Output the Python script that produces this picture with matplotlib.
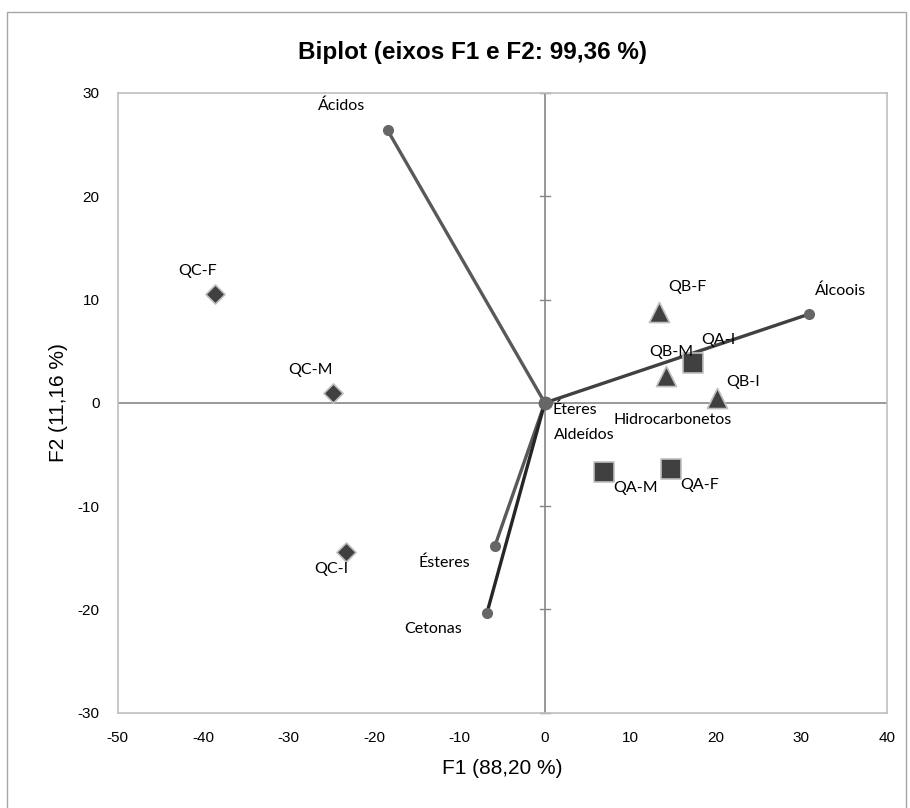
import matplotlib
matplotlib.use("Agg")
import matplotlib.pyplot as plt
from matplotlib.patches import Rectangle

plt.rcParams["axes.unicode_minus"] = False

# ---- data ----
obs_labels = ["QA-I", "QA-M", "QA-F", "QB-I", "QB-M", "QB-F", "QC-I", "QC-M", "QC-F"]
obs_f1 = [17.3, 6.9, 14.8, 20.2, 14.2, 13.4, -23.3, -24.8, -38.6]
obs_f2 = [3.9, -6.7, -6.4, 0.5, 2.6, 8.8, -14.4, 1.0, 10.5]
obs_group = ["A", "A", "A", "B", "B", "B", "C", "C", "C"]

var_labels = ["Ácidos", "Álcoois", "Ésteres", "Cetonas", "Éteres", "Aldeídos", "Hidrocarbonetos"]
var_f1 = [-18.4, 30.95, -5.86, -6.76, 0.1, 0.05, 0.2]
var_f2 = [26.4, 8.6, -13.9, -20.3, 0.05, -0.1, 0.02]

x_ticks = [-50, -40, -30, -20, -10, 0, 10, 20, 30, 40]
y_ticks = [-30, -20, -10, 0, 10, 20, 30]

title = "Biplot (eixos F1 e F2: 99,36 %)"
xlabel = "F1 (88,20 %)"
ylabel = "F2 (11,16 %)"

# ---- styles ----
W, H = 910, 808
fig = plt.figure(figsize=(W / 100, H / 100), dpi=100)
ax_l, ax_r, ax_t, ax_b = 117.5, 886.7, 93, 712.7
ax = fig.add_axes([ax_l / W, 1 - ax_b / H, (ax_r - ax_l) / W, (ax_b - ax_t) / H])

lab_font = "Lato"
marker_style = {"A": dict(marker="s", s=210), "B": dict(marker="^", s=210), "C": dict(marker="D", s=95)}

obs_offsets = {
    "QA-I": (26, 23), "QA-M": (32, -16), "QA-F": (28, -16),
    "QB-I": (26, 16), "QB-M": (5, 24), "QB-F": (28, 25),
    "QC-I": (-14, -17), "QC-M": (-22, 23), "QC-F": (-17, 23),
}
var_offsets = {
    "Ácidos": (-46, 24), "Álcoois": (31, 23), "Ésteres": (-50, -16), "Cetonas": (-54, -16),
    "Éteres": (29, -7), "Aldeídos": (39, -31), "Hidrocarbonetos": (126, -17),
}
var_colors = {"Ácidos": "#595959", "Álcoois": "#404040", "Ésteres": "#595959", "Cetonas": "#262626",
              "Éteres": "#595959", "Aldeídos": "#595959", "Hidrocarbonetos": "#595959"}

ax.set_xlim(-50, 40)
ax.set_ylim(-30, 30)

# center axes
ax.axvline(0, color="#868686", lw=1.2, zorder=1)
ax.axhline(0, color="#868686", lw=1.2, zorder=1)
for yt in y_ticks:
    if yt != 0:
        ax.plot([-0.6, 0.6], [yt, yt], color="#868686", lw=1.0, zorder=1, clip_on=False)

# vectors
for lab, x, y in zip(var_labels, var_f1, var_f2):
    c = var_colors[lab]
    ax.plot([0, x], [0, y], color=c, lw=2.4, zorder=3, solid_capstyle="round")
    ax.plot([x], [y], marker="o", ms=7, color="#666666", mec="#666666", zorder=4)
    dx, dy = var_offsets[lab]
    ax.annotate(lab, (x, y), xytext=(dx, dy), textcoords="offset pixels",
                ha="center", va="center", fontsize=11.5, family=lab_font, color="#000000", zorder=6)
ax.plot([0], [0], marker="o", ms=9, color="#666666", zorder=4)

# observations
for lab, x, y, g in zip(obs_labels, obs_f1, obs_f2, obs_group):
    st = marker_style[g]
    ax.scatter([x], [y], marker=st["marker"], s=st["s"], color="#404040",
               edgecolors="#BFBFBF", linewidths=1.2, zorder=5)
    dx, dy = obs_offsets[lab]
    ax.annotate(lab, (x, y), xytext=(dx, dy), textcoords="offset pixels",
                ha="center", va="center", fontsize=11.5, family=lab_font, color="#000000", zorder=6)

ax.set_xticks(x_ticks)
ax.set_yticks(y_ticks)
ax.tick_params(length=0, labelsize=11, pad=13)
for t in ax.get_xticklabels() + ax.get_yticklabels():
    t.set_family("Liberation Sans")
for s in ax.spines.values():
    s.set_color("#BFBFBF")
    s.set_linewidth(1.2)

ax.set_xlabel(xlabel, fontsize=15, family="Liberation Sans", va="center")
ax.set_ylabel(ylabel, fontsize=15, family="Liberation Sans", va="center")
pw, ph = ax_r - ax_l, ax_b - ax_t
ax.xaxis.set_label_coords(0.5, (ax_b - 768) / ph)
ax.yaxis.set_label_coords((58 - ax_l) / pw, 0.5)

fig.text(472 / W, 1 - 52 / H, title, ha="center", va="center", fontsize=17.5,
         fontweight="bold", family="Liberation Sans")

# outer chart frame
fig.add_artist(Rectangle((7 / W, 0 - 0.01), (906 - 7) / W, 1 - 12 / H + 0.01,
                         transform=fig.transFigure, fill=False, edgecolor="#A6A6A6", lw=1.0,
                         clip_on=False))

fig.savefig("out.png", dpi=100)
